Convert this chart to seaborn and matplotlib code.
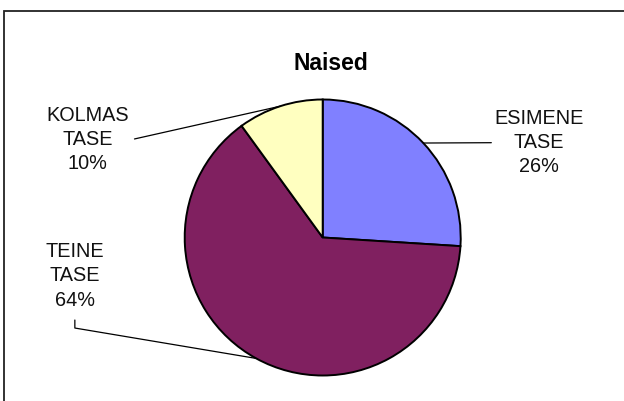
import numpy as np
import matplotlib
matplotlib.use('Agg')
import matplotlib.pyplot as plt
import matplotlib.patches as mpatches
import seaborn as sns

# Chart data
title = 'Naised'
categories = ['ESIMENE\nTASE', 'TEINE\nTASE', 'KOLMAS\nTASE']
shares = [26, 64, 10]
slice_colors = ['#8080FF', '#802060', '#FFFFC0']

sns.set_theme(style='white')
plt.rcParams['font.family'] = ['Liberation Sans', 'DejaVu Sans']

fig = plt.figure(figsize=(6.24, 4.01), dpi=100)
fig.patch.set_facecolor('white')

# chart border (Excel style frame, runs off right/bottom edge)
frame = mpatches.Rectangle((4 / 624, -0.02), 1.05, 1 - 11 / 401 + 0.02,
                           transform=fig.transFigure, fill=False,
                           edgecolor='#222222', linewidth=1.3, clip_on=False)
fig.patches.append(frame)

# square axes holding the pie
ax = fig.add_axes([184.7 / 624, 25.5 / 401, 276 / 624, 276 / 401])
wedges, _ = ax.pie(shares, colors=slice_colors, startangle=90, counterclock=False,
                   radius=1.0, wedgeprops=dict(edgecolor='black', linewidth=1.4))
ax.set_xlim(-1, 1)
ax.set_ylim(-1, 1)
ax.set_aspect('equal')
ax.axis('off')

fig.text(331 / 624, 1 - 64 / 401, title, ha='center', va='center',
         fontsize=16.5, fontweight='bold', color='black')

# label layout (data units of the pie axes)
label_pos = [(1.567, 0.688), (-1.795, -0.278), (-1.704, 0.710)]
line_paths = [
    [(1.222, 0.687)],
    [(-1.796, -0.656), (-1.796, -0.598)],
    [(-1.364, 0.714)],
]

for w, cat, val, pos, path in zip(wedges, categories, shares, label_pos, line_paths):
    mid = np.deg2rad((w.theta1 + w.theta2) / 2)
    edge = (np.cos(mid), np.sin(mid))
    xs = [edge[0]] + [p[0] for p in path]
    ys = [edge[1]] + [p[1] for p in path]
    ax.plot(xs, ys, color='black', linewidth=0.9, clip_on=False)
    ax.text(pos[0], pos[1], f'{cat}\n{val}%', ha='center', va='center',
            fontsize=14.3, color='#111111', linespacing=1.35, clip_on=False)

fig.savefig('out.png', dpi=100, facecolor='white')
